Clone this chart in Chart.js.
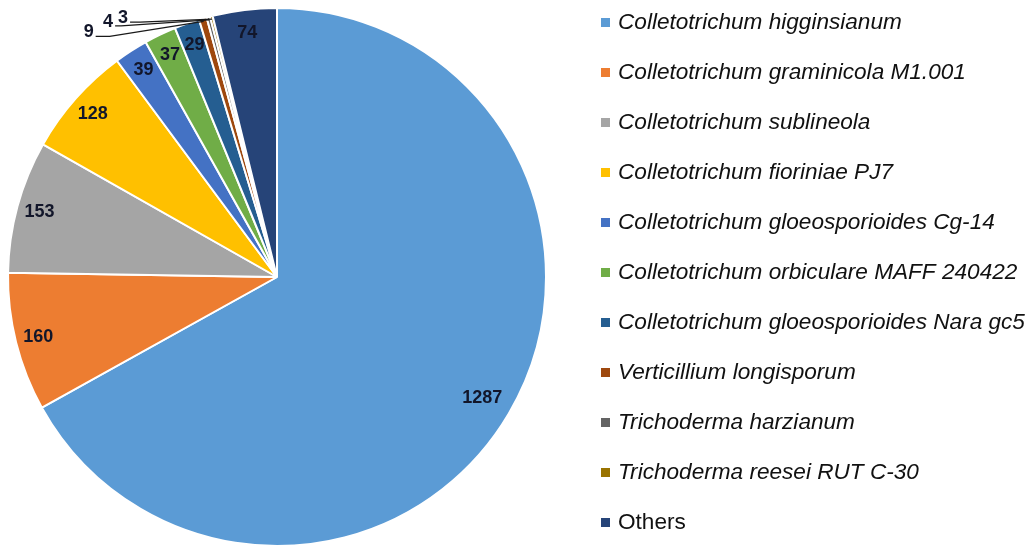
<!DOCTYPE html>
<html>
<head>
<meta charset="utf-8">
<script src="https://cdn.jsdelivr.net/npm/chart.js@4.4.1/dist/chart.umd.min.js"></script>
<style>
  html, body { margin: 0; padding: 0; background: #fff; }
  #wrap { width: 1035px; height: 550px; position: relative; }
</style>
</head>
<body>
<div id="wrap"><canvas id="pie"></canvas></div>
<script>
const species = [
    "Colletotrichum higginsianum",
    "Colletotrichum graminicola M1.001",
    "Colletotrichum sublineola",
    "Colletotrichum fioriniae PJ7",
    "Colletotrichum gloeosporioides Cg-14",
    "Colletotrichum orbiculare MAFF 240422",
    "Colletotrichum gloeosporioides Nara gc5",
    "Verticillium longisporum",
    "Trichoderma harzianum",
    "Trichoderma reesei RUT C-30",
    "Others"
];
const hits = [1287, 160, 153, 128, 39, 37, 29, 9, 4, 3, 74];
const italicName = [true, true, true, true, true, true, true, true, true, true, false];
const sliceColors = ["#5b9bd5", "#ed7d31", "#a5a5a5", "#ffc000", "#4472c4", "#70ad47",
                     "#255e91", "#9e480e", "#636363", "#997300", "#264478"];

// tiny slices get their numbers outside, on a leader line (offset from the slice edge)
const outsideLabels = {
    7: { dx: -108, dy: 15, tail: 14 },
    8: { dx: -94, dy: 6, tail: 6 },
    9: { dx: -82, dy: 3, tail: 10 }
};

const labelFont = "bold 18px 'Liberation Sans', Arial, sans-serif";
const legendFont = "22.6px 'Liberation Sans', Arial, sans-serif";

const valueLabels = {
    id: "valueLabels",
    afterDatasetsDraw(chart) {
        const ctx = chart.ctx;
        const arcs = chart.getDatasetMeta(0).data;
        ctx.save();
        ctx.font = labelFont;
        ctx.fillStyle = "#12162a";
        arcs.forEach((arc, i) => {
            const mid = (arc.startAngle + arc.endAngle) / 2;
            const out = outsideLabels[i];
            if (out) {
                const ex = arc.x + Math.cos(mid) * (arc.outerRadius - 3);
                const ey = arc.y + Math.sin(mid) * (arc.outerRadius - 3);
                const lx = ex + out.dx, ly = ey + out.dy;
                ctx.strokeStyle = "#1a1a1a";
                ctx.lineWidth = 1.2;
                ctx.beginPath();
                ctx.moveTo(ex, ey);
                ctx.lineTo(lx + out.tail, ly);
                ctx.lineTo(lx, ly);
                ctx.stroke();
                ctx.textAlign = "right";
                ctx.textBaseline = "alphabetic";
                ctx.fillText(hits[i], lx - 2, ly + 1);
            } else {
                const r = arc.outerRadius * (i === 0 ? 0.885 : 0.915);
                ctx.textAlign = "center";
                ctx.textBaseline = "middle";
                ctx.fillText(hits[i], arc.x + Math.cos(mid) * r, arc.y + Math.sin(mid) * r);
            }
        });
        ctx.restore();
    }
};

// legend drawn by hand so "Others" can stay upright while species are italic
const sideLegend = {
    id: "sideLegend",
    afterDraw(chart) {
        const ctx = chart.ctx;
        const x0 = 601, y0 = 22, step = 50;
        ctx.save();
        ctx.textBaseline = "middle";
        ctx.textAlign = "left";
        species.forEach((name, i) => {
            const y = y0 + i * step;
            ctx.fillStyle = sliceColors[i];
            ctx.fillRect(x0, y - 4, 9, 9);
            ctx.fillStyle = "#111";
            ctx.font = (italicName[i] ? "italic " : "") + legendFont;
            ctx.fillText(name, x0 + 17, y + 1);
        });
        ctx.restore();
    }
};

new Chart(document.getElementById("pie"), {
    type: "pie",
    data: {
        labels: species,
        datasets: [{
            data: hits,
            backgroundColor: sliceColors,
            borderColor: "#ffffff",
            borderWidth: 2
        }]
    },
    options: {
        responsive: true,
        maintainAspectRatio: false,
        animation: false,
        layout: { padding: { left: 7, top: 7, bottom: 3, right: 488 } },
        plugins: {
            legend: { display: false },
            tooltip: { enabled: false }
        }
    },
    plugins: [valueLabels, sideLegend]
});
</script>
</body>
</html>
